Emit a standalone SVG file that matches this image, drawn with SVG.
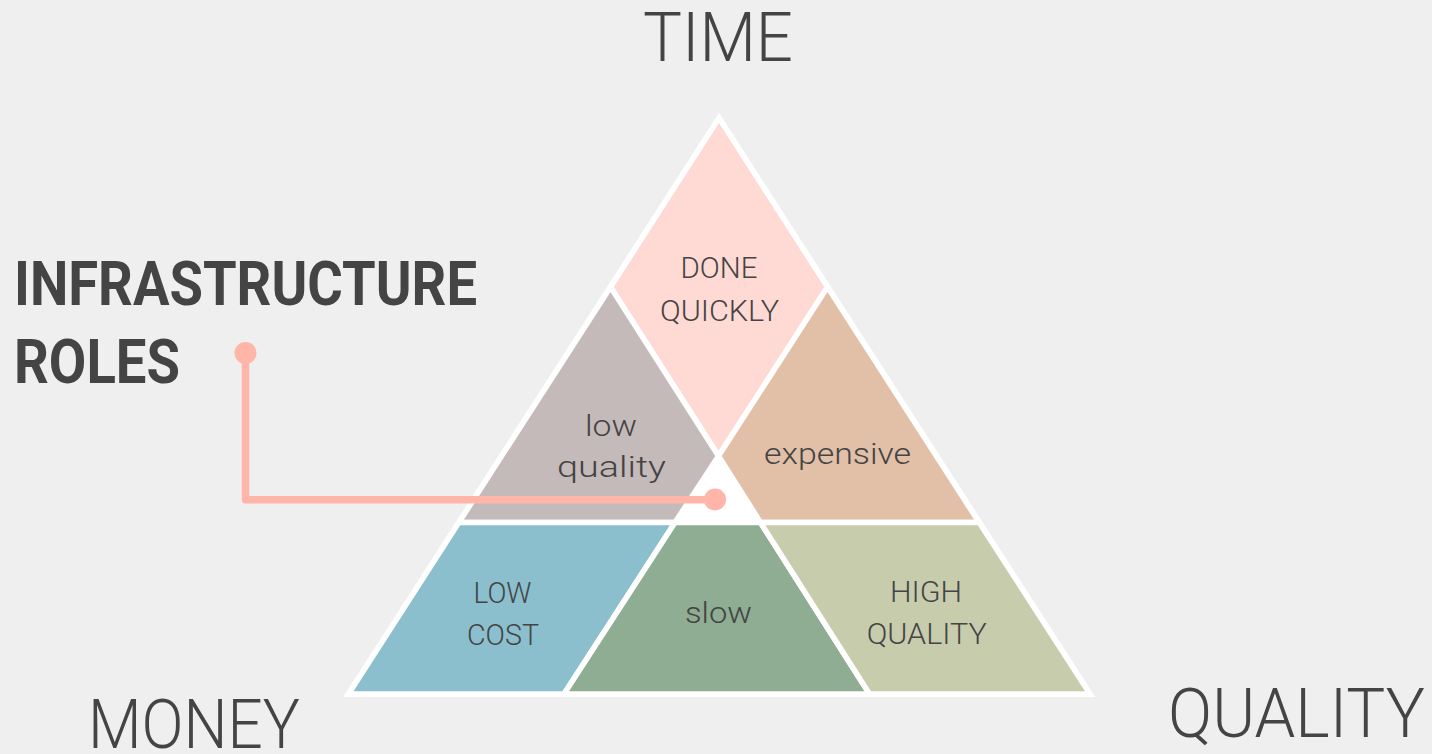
<svg xmlns="http://www.w3.org/2000/svg" width="1432" height="754" viewBox="0 0 1432 754">
<style>
.seg{stroke:#ffffff;stroke-width:5.5;stroke-linejoin:miter;stroke-miterlimit:10}
.lbl{font-family:Roboto,"Liberation Sans",sans-serif;font-weight:300;fill:#444444;text-anchor:middle}
.in{font-size:30px}
.big{font-size:68px}
.title{font-family:Roboto,"Liberation Sans",sans-serif;font-weight:700;fill:#444444;font-size:62px}
.conn{fill:none;stroke:#FFB5A8;stroke-width:7.5;stroke-linejoin:round}
</style>
<rect width="1432" height="754" fill="#EFEFEF"/>
<g id="frame">
<polygon points="719,118 1090,694 348.5,694" fill="#ffffff" class="seg"/>
</g>
<g id="done-quickly">
<polygon points="719,118 827.5,287 718.5,456 610.5,287" fill="#FFD9D3" class="seg"/>
<text class="lbl in" x="719" y="277.5" textLength="77" lengthAdjust="spacingAndGlyphs">DONE</text>
<text class="lbl in" x="719.5" y="320.7" textLength="119" lengthAdjust="spacingAndGlyphs">QUICKLY</text>
</g>
<g id="low-quality">
<polygon points="610.5,287 718.5,456 675,522.5 458.8,522.5" fill="#C4BAB9" class="seg"/>
<text class="lbl in" x="611" y="436" textLength="52" lengthAdjust="spacingAndGlyphs">low</text>
<text class="lbl in" x="611.5" y="477" textLength="109" lengthAdjust="spacingAndGlyphs">quality</text>
</g>
<g id="expensive">
<polygon points="827.5,287 979.2,522.5 760.5,522.5 718.5,456" fill="#E2C0A8" class="seg"/>
<text class="lbl in" x="837.5" y="464" textLength="147" lengthAdjust="spacingAndGlyphs">expensive</text>
</g>
<g id="low-cost">
<polygon points="458.8,522.5 675,522.5 564,694 348.5,694" fill="#8BBFCD" class="seg"/>
<text class="lbl in" x="502.5" y="602.7" textLength="58" lengthAdjust="spacingAndGlyphs">LOW</text>
<text class="lbl in" x="503" y="645" textLength="72" lengthAdjust="spacingAndGlyphs">COST</text>
</g>
<g id="slow">
<polygon points="675,522.5 760.5,522.5 869.5,694 564,694" fill="#8FAD92" class="seg"/>
<text class="lbl in" x="718.5" y="623" textLength="67" lengthAdjust="spacingAndGlyphs">slow</text>
</g>
<g id="high-quality">
<polygon points="760.5,522.5 979.2,522.5 1090,694 869.5,694" fill="#C7CCAD" class="seg"/>
<text class="lbl in" x="926" y="601.7" textLength="72" lengthAdjust="spacingAndGlyphs">HIGH</text>
<text class="lbl in" x="926.7" y="644" textLength="120" lengthAdjust="spacingAndGlyphs">QUALITY</text>
</g>
<g id="corner-labels">
<text class="lbl big" x="718" y="60.5" textLength="150" lengthAdjust="spacingAndGlyphs">TIME</text>
<text class="lbl big" x="194" y="748" textLength="212" lengthAdjust="spacingAndGlyphs">MONEY</text>
<text class="lbl big" x="1296.5" y="737" textLength="257" lengthAdjust="spacingAndGlyphs">QUALITY</text>
</g>
<g id="title">
<text class="title" x="14" y="305" textLength="463" lengthAdjust="spacingAndGlyphs">INFRASTRUCTURE</text>
<text class="title" x="14" y="383" textLength="166" lengthAdjust="spacingAndGlyphs">ROLES</text>
</g>
<g id="connectors">
<path class="conn" d="M245.5,353 V499.7 H715"/>
<circle cx="245.5" cy="353" r="11" fill="#FFB5A8"/>
<circle cx="715" cy="499.5" r="11" fill="#FFB5A8"/>
</g>
</svg>
